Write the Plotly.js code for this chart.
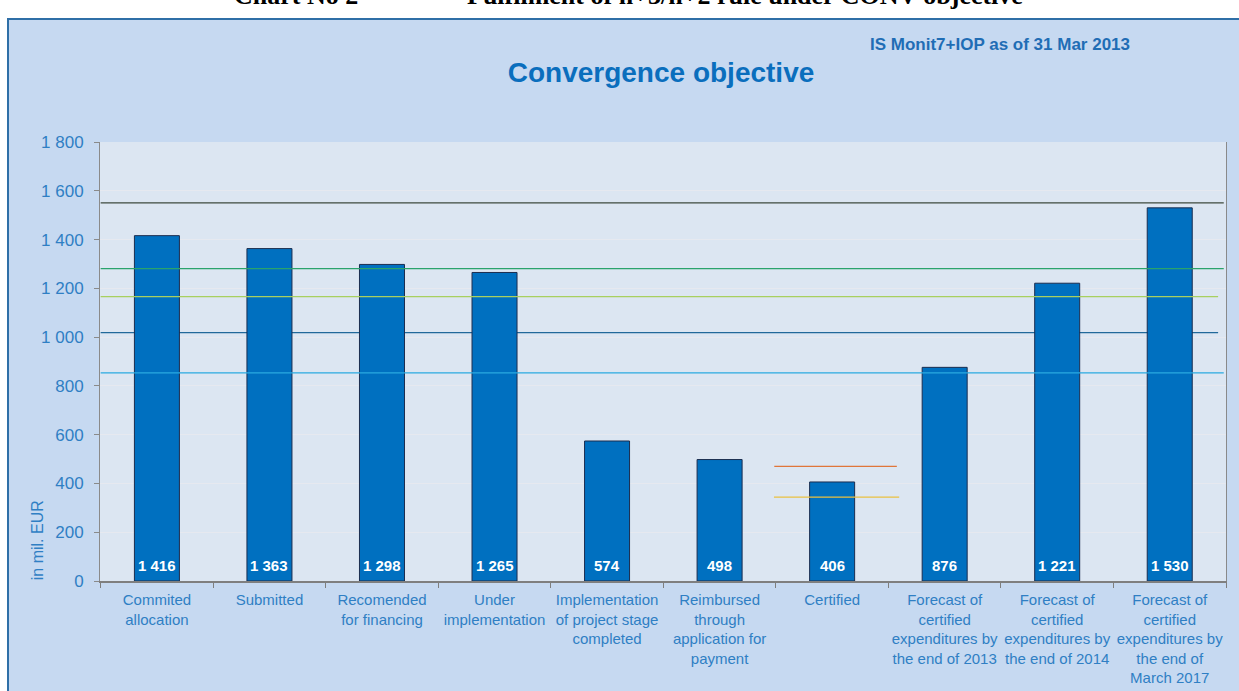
<!DOCTYPE html>
<html>
<head>
<meta charset="utf-8">
<script src="https://cdn.plot.ly/plotly-3.0.1.min.js"></script>
<style>
  html, body { margin:0; padding:0; background:#ffffff; width:1239px; height:691px; overflow:hidden; }
  #box { position:absolute; left:7px; top:18px; width:1232px; height:673px; background:#C6D9F1; border-left:2px solid #2F6FA7; border-top:2px solid #2F6FA7; }
  #chart { position:absolute; left:0; top:0; width:1239px; height:691px; }
</style>
</head>
<body>
<div id="box"></div>
<div id="chart"></div>
<script>
// ---- data ----
const categories = [
  "Commited<br>allocation",
  "Submitted",
  "Recomended<br>for financing",
  "Under<br>implementation",
  "Implementation<br>of project stage<br>completed",
  "Reimbursed<br>through<br>application for<br>payment",
  "Certified",
  "Forecast of<br>certified<br>expenditures by<br>the end of 2013",
  "Forecast of<br>certified<br>expenditures by<br>the end of 2014",
  "Forecast of<br>certified<br>expenditures by<br>the end of<br>March 2017"
];
const values = [1416, 1363, 1298, 1265, 574, 498, 406, 876, 1221, 1530];

// reference lines (value levels, in mil. EUR)
const fullLineLevels = [1550, 1281, 1166, 1018, 853];
const shortLineLevels = [470, 344];   // around "Certified"

const yTickVals = [0, 200, 400, 600, 800, 1000, 1200, 1400, 1600, 1800];

const titleText = "Convergence objective";
const sourceText = "IS Monit7+IOP as of 31 Mar 2013";
const headerLeft = "Chart No 2";
const headerRight = "Fulfilment of n+3/n+2 rule under CONV objective";
const yAxisLabel = "in mil. EUR";

// ---- styles ----
const FONT = "Arial, Liberation Sans, sans-serif";
const labelBlue = "#2F7FC4";

const fullLineStyles = [
  {color:"#3E4A3E", end:9.48, layer:"above"},
  {color:"#2AA36C", end:9.48, layer:"above"},
  {color:"#A8D060", end:9.43, layer:"above"},
  {color:"#21699A", end:9.43, layer:"below"},
  {color:"#2AAAE0", end:9.48, layer:"above"}
];
const shortLineStyles = [
  {color:"#E0763A", x0:5.486, x1:6.575, layer:"above"},
  {color:"#EAC040", x0:5.483, x1:6.596, layer:"above"}
];

const shapes = [];
fullLineLevels.forEach((v, i) => {
  const s = fullLineStyles[i];
  shapes.push({type:"line", xref:"x", yref:"y", x0:-0.5, x1:s.end, y0:v, y1:v,
               line:{color:s.color, width:1.3}, layer:s.layer});
});
shortLineLevels.forEach((v, i) => {
  const s = shortLineStyles[i];
  shapes.push({type:"line", xref:"x", yref:"y", x0:s.x0, x1:s.x1, y0:v, y1:v,
               line:{color:s.color, width:1.3}, layer:s.layer});
});

function fmt(n) { return String(n).replace(/\B(?=(\d{3})+(?!\d))/g, " "); }

const valueAnnotations = categories.map((c, i) => ({
  text: fmt(values[i]), x: c, y: 0, xref:"x", yref:"y",
  xanchor:"center", yanchor:"bottom", yshift:5, showarrow:false,
  font:{family:FONT, size:15, color:"#ffffff", weight:"bold"}
}));

const trace = {
  type:"bar",
  x: categories,
  y: values,
  width: 0.4,
  marker:{color:"#0070C0", line:{color:"#1B2D4F", width:1}},
  hoverinfo:"x+y"
};

const layout = {
  width:1239, height:691,
  margin:{l:100, r:13, t:142, b:110, pad:0},
  paper_bgcolor:"rgba(0,0,0,0)",
  plot_bgcolor:"#DCE6F2",
  separators:", ",
  showlegend:false,
  font:{family:FONT, color:labelBlue},
  title:{text:titleText, xref:"container", yref:"container", x:661/1239, xanchor:"center",
         y:1-72/691, yanchor:"middle",
         font:{family:FONT, size:28, color:"#0A6EBD", weight:"bold"}},
  xaxis:{
    type:"category",
    showline:true, linecolor:"#7F7F7F", linewidth:2, mirror:false,
    ticks:"outside", tickson:"boundaries", ticklen:5, tickcolor:"#7F7F7F", tickwidth:1,
    tickangle:0, ticklabelstandoff:4,
    tickfont:{family:FONT, size:15, color:labelBlue},
    showgrid:false, zeroline:false, fixedrange:true
  },
  yaxis:{
    range:[0,1800],
    tickvals:yTickVals, tickformat:",d",
    showline:true, linecolor:"#8A8A8A", linewidth:1, mirror:true,
    ticks:"outside", ticklen:5, tickcolor:"#8A8A8A",
    ticklabelstandoff:7,
    tickfont:{family:FONT, size:17, color:labelBlue},
    showgrid:true, gridcolor:"#E6E9F0", gridwidth:1,
    zeroline:false, fixedrange:true
  },
  shapes: shapes,
  annotations:[
    {text:sourceText, xref:"paper", yref:"paper", x:(1000-100)/1126, y:(580.7-45)/438.7,
     xanchor:"center", yanchor:"middle", showarrow:false,
     font:{family:FONT, size:17, color:"#1F6DB5", weight:"bold"}},
    {text:yAxisLabel, xref:"paper", yref:"y", x:(37-100)/1126, y:167, textangle:-90,
     xanchor:"center", yanchor:"middle", showarrow:false,
     font:{family:FONT, size:16, color:labelBlue}},
    {text:headerLeft, xref:"paper", yref:"paper", x:(296-100)/1126, y:(580.7+4)/438.7,
     xanchor:"center", yanchor:"middle", showarrow:false,
     font:{family:"Liberation Serif, Times New Roman, serif", size:26, color:"#000000", weight:"bold"}},
    {text:headerRight, xref:"paper", yref:"paper", x:(745-100)/1126, y:(580.7+4)/438.7,
     xanchor:"center", yanchor:"middle", showarrow:false,
     font:{family:"Liberation Serif, Times New Roman, serif", size:26, color:"#000000", weight:"bold"}}
  ].concat(valueAnnotations)
};

Plotly.newPlot("chart", [trace], layout, {displayModeBar:false});
</script>
</body>
</html>
